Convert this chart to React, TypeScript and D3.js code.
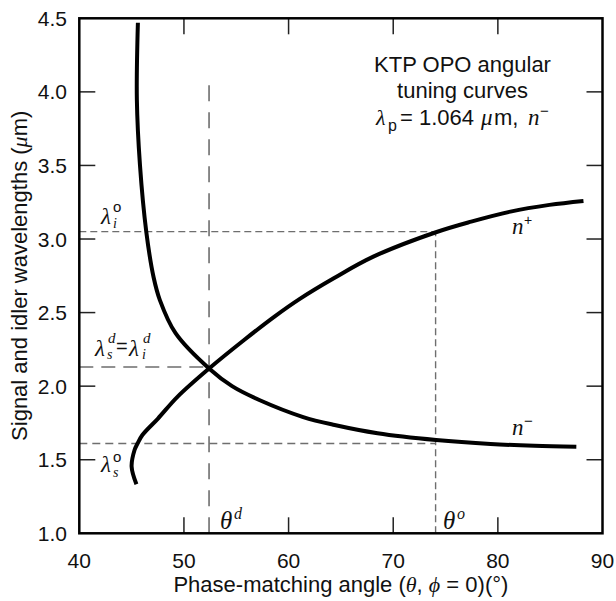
import React from "react";
import * as d3 from "d3";

// ---- data ----
const xTicks = [40, 50, 60, 70, 80, 90];
const yTicks = [1.0, 1.5, 2.0, 2.5, 3.0, 3.5, 4.0, 4.5];
const innerXTicks = [50, 60, 70, 80];
const innerYTicks = [1.5, 2.0, 2.5, 3.0, 3.5, 4.0];

// n- branch (angle deg, wavelength um)
const nMinusAngle = [45.6, 45.5, 45.8, 46.4, 47.1, 47.7, 49.2, 52.4, 54.6, 57.2, 61.4, 64.4, 68.5, 74.1, 79.3, 83.5, 87.5];
const nMinusLambda = [4.47, 3.95, 3.5, 3.05, 2.74, 2.585, 2.36, 2.12, 2.0, 1.906, 1.79, 1.736, 1.68, 1.634, 1.607, 1.595, 1.589];

// n+ branch
const nPlusAngle = [45.46, 45.0, 45.28, 45.54, 46.03, 47.52, 49.4, 52.4, 55.75, 58.75, 61.0, 64.36, 68.1, 74.08, 77.45, 81.2, 84.93, 88.18];
const nPlusLambda = [1.333, 1.453, 1.566, 1.607, 1.668, 1.78, 1.929, 2.12, 2.314, 2.478, 2.59, 2.735, 2.88, 3.046, 3.118, 3.186, 3.232, 3.259];

const thetaD = 52.4;
const thetaO = 74.05;
const lambdaIo = 3.05;
const lambdaD = 2.13;
const lambdaSo = 1.61;
const thetaDTop = 4.11;

const SANS = "'Liberation Sans', Arial, Helvetica, sans-serif";
const SERIF = "'Liberation Serif', 'Times New Roman', serif";

export default function App() {
  const W = 616, H = 601;
  const left = 79.3, right = 602.5, top = 18.3, bottom = 533.3;
  const x = d3.scaleLinear().domain([40, 90]).range([left, right]);
  const y = d3.scaleLinear().domain([1.0, 4.5]).range([bottom, top]);

  const line = d3
    .line<[number, number]>()
    .x((d) => x(d[0]))
    .y((d) => y(d[1]))
    .curve(d3.curveCatmullRom.alpha(0.5));

  const nMinus = nMinusAngle.map((a, i) => [a, nMinusLambda[i]] as [number, number]);
  const nPlus = nPlusAngle.map((a, i) => [a, nPlusLambda[i]] as [number, number]);

  const tickLen = 16;
  const dashGray = "#6e6e6e";
  const ink = "#111";

  const it = { fontFamily: SERIF, fontStyle: "italic" as const, fill: ink };
  const sans = { fontFamily: SANS, fill: ink };

  return (
    <div style={{ position: "absolute", left: 0, top: 0 }}>
      <svg width={W} height={H} style={{ display: "block", background: "#fff" }}>
        {/* dashed guide lines */}
        <line x1={x(thetaD)} x2={x(thetaD)} y1={y(1.0)} y2={y(thetaDTop)} stroke={dashGray} strokeWidth={1.6} strokeDasharray="16 11" />
        <line x1={x(thetaO)} x2={x(thetaO)} y1={y(1.0)} y2={y(lambdaIo)} stroke={dashGray} strokeWidth={1.4} strokeDasharray="7 4" />
        <line x1={x(40)} x2={x(thetaO)} y1={y(lambdaIo)} y2={y(lambdaIo)} stroke={dashGray} strokeWidth={1.4} strokeDasharray="7 4" />
        <line x1={x(40)} x2={x(thetaD)} y1={y(lambdaD)} y2={y(lambdaD)} stroke={dashGray} strokeWidth={1.6} strokeDasharray="14 8" />
        <line x1={x(40)} x2={x(thetaO)} y1={y(lambdaSo)} y2={y(lambdaSo)} stroke={dashGray} strokeWidth={1.4} strokeDasharray="8 5" />

        {/* curves */}
        <path d={line(nMinus) || ""} fill="none" stroke="#000" strokeWidth={4} strokeLinejoin="round" />
        <path d={line(nPlus) || ""} fill="none" stroke="#000" strokeWidth={4} strokeLinejoin="round" />

        {/* inward ticks */}
        {innerXTicks.map((t) => (
          <g key={"xt" + t}>
            <line x1={x(t)} x2={x(t)} y1={bottom} y2={bottom - tickLen} stroke="#222" strokeWidth={1.5} />
            <line x1={x(t)} x2={x(t)} y1={top} y2={top + tickLen} stroke="#222" strokeWidth={1.5} />
          </g>
        ))}
        {innerYTicks.map((t) => (
          <g key={"yt" + t}>
            <line x1={left} x2={left + tickLen} y1={y(t)} y2={y(t)} stroke="#222" strokeWidth={1.5} />
            <line x1={right} x2={right - tickLen} y1={y(t)} y2={y(t)} stroke="#222" strokeWidth={1.5} />
          </g>
        ))}

        {/* frame */}
        <rect x={left} y={top} width={right - left} height={bottom - top} fill="none" stroke="#000" strokeWidth={2.5} />

        {/* tick labels */}
        {xTicks.map((t) => (
          <text key={"xl" + t} x={x(t)} y={568} textAnchor="middle" fontSize={21} {...sans}>
            {t}
          </text>
        ))}
        {yTicks.map((t) => (
          <text key={"yl" + t} x={67} y={y(t) + 7.5} textAnchor="end" fontSize={21} {...sans}>
            {t.toFixed(1)}
          </text>
        ))}

        {/* axis titles */}
        <text x={(left + right) / 2} y={592} textAnchor="middle" fontSize={22} {...sans}>
          Phase-matching angle (<tspan {...it}>θ</tspan>,{" "}
          <tspan {...it}>ϕ</tspan> = 0)(°)
        </text>
        <text transform={`translate(27, ${(top + bottom) / 2}) rotate(-90)`} textAnchor="middle" fontSize={22} {...sans}>
          Signal and idler wavelengths (<tspan {...it}>μ</tspan>m)
        </text>

        {/* annotation block */}
        <text x={462.5} y={72} textAnchor="middle" fontSize={22} {...sans}>KTP OPO angular</text>
        <text x={462.5} y={98} textAnchor="middle" fontSize={22} {...sans}>tuning curves</text>
        <text x={376} y={125} fontSize={22} {...it}>λ</text>
        <text x={388} y={131} fontSize={16} {...sans}>p</text>
        <text x={400} y={125} fontSize={22} {...sans}>= 1.064</text>
        <text x={481} y={125} fontSize={23} {...it}>μ</text>
        <text x={494} y={125} fontSize={22} {...sans}>m,</text>
        <text x={528} y={125} fontSize={23} {...it}>n</text>
        <text x={540} y={116} fontSize={15} {...sans}>−</text>

        {/* curve labels */}
        <text x={512} y={234} fontSize={23} {...it}>n</text>
        <text x={524} y={225} fontSize={14} {...sans}>+</text>
        <text x={512} y={435} fontSize={23} {...it}>n</text>
        <text x={524} y={426} fontSize={15} {...sans}>−</text>

        {/* lambda labels */}
        <text x={101} y={224} fontSize={23} {...it}>λ</text>
        <text x={113} y={228} fontSize={14} {...it}>i</text>
        <text x={113} y={212} fontSize={15} {...sans}>o</text>

        <text x={95} y={356} fontSize={23} {...it}>λ</text>
        <text x={107} y={359} fontSize={14} {...it}>s</text>
        <text x={108} y={343} fontSize={15} {...it}>d</text>
        <text x={116} y={353} fontSize={20} {...sans}>=</text>
        <text x={129} y={356} fontSize={23} {...it}>λ</text>
        <text x={142} y={359} fontSize={14} {...it}>i</text>
        <text x={143} y={343} fontSize={15} {...it}>d</text>

        <text x={101} y={472} fontSize={23} {...it}>λ</text>
        <text x={113} y={477} fontSize={14} {...it}>s</text>
        <text x={113} y={462} fontSize={15} {...sans}>o</text>

        {/* theta labels */}
        <text x={220} y={529} fontSize={25} {...it}>θ</text>
        <text x={234} y={519} fontSize={16} {...it}>d</text>
        <text x={443} y={529} fontSize={25} {...it}>θ</text>
        <text x={457} y={519} fontSize={16} {...it}>o</text>
      </svg>
    </div>
  );
}
